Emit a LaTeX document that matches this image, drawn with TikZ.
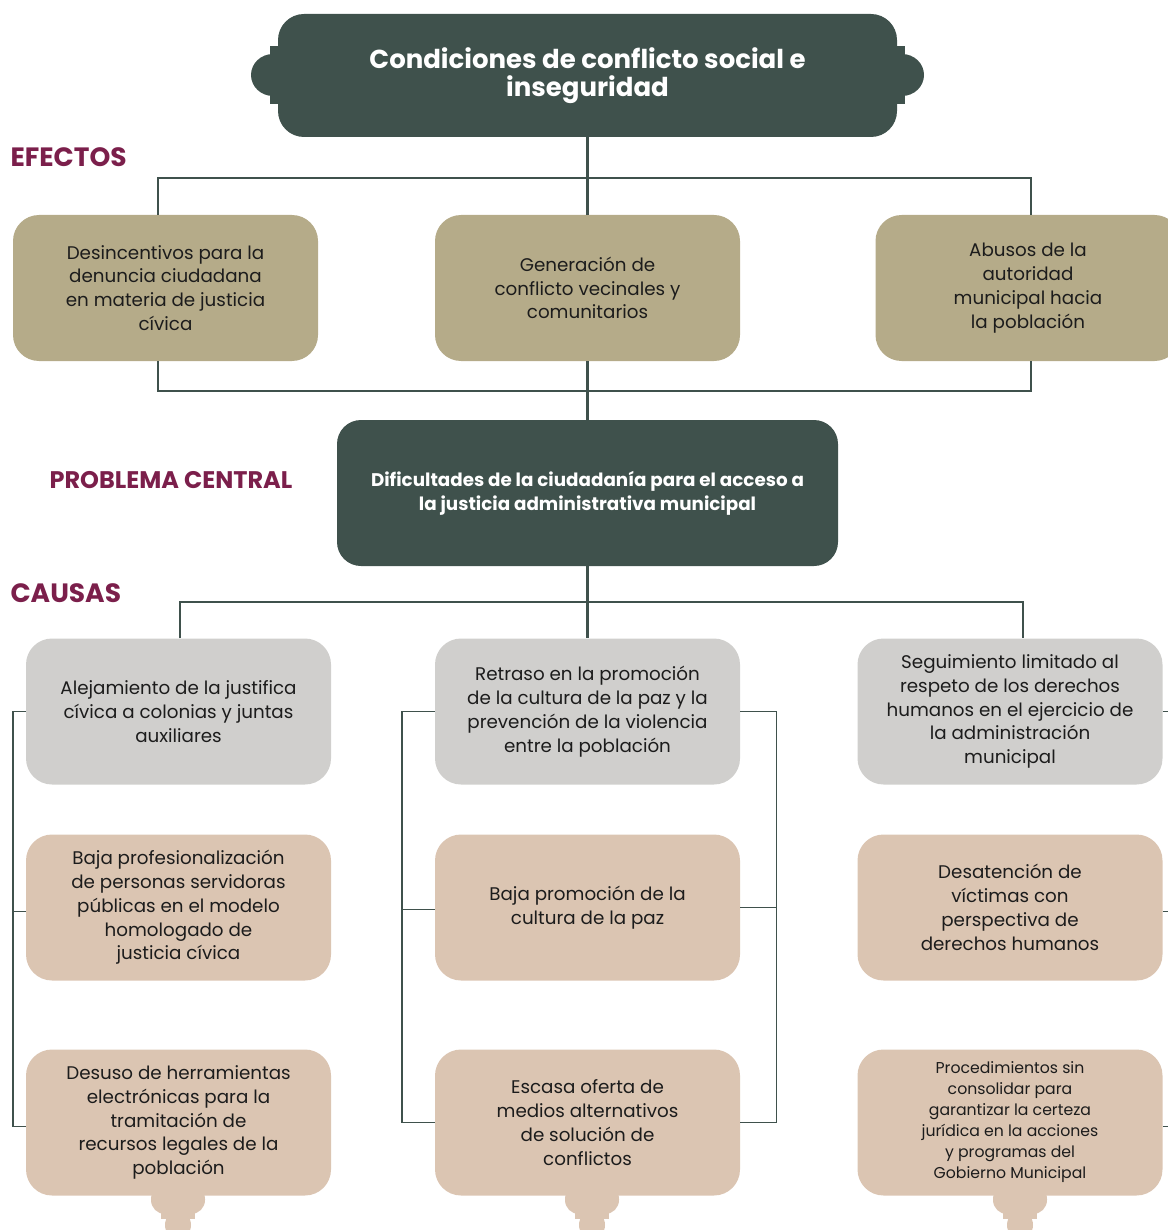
\documentclass[tikz,border=0pt]{standalone}
\usepackage{fontspec}
\setmainfont{Poppins}
\usetikzlibrary{positioning}
\definecolor{verdeOscuro}{HTML}{3F514C}
\definecolor{olivo}{HTML}{B5AB89}
\definecolor{grisClaro}{HTML}{D0CFCD}
\definecolor{arena}{HTML}{DBC5B2}
\definecolor{guinda}{HTML}{7B1F4B}
\definecolor{textoCaja}{HTML}{1C1C1C}

\begin{document}
\begin{tikzpicture}[x=1pt, y=-1pt,
    caja/.style={rounded corners=26pt, minimum width=305pt, minimum height=146pt,
        inner sep=0pt, align=center, text=textoCaja, font=\fontsize{18.3}{23.8}\selectfont},
    efecto/.style={caja, fill=olivo},
    causaGris/.style={caja, fill=grisClaro},
    causaArena/.style={caja, fill=arena},
    seccion/.style={anchor=west, text=guinda, font=\fontsize{26.5}{30}\selectfont\bfseries},
    rama/.style={draw=verdeOscuro, line width=2.6pt},
    riel/.style={draw=verdeOscuro, line width=1.4pt}]

    % --- PARAMETROS ---
    \pgfmathsetmacro{\colA}{178.5}    % centro columna izquierda
    \pgfmathsetmacro{\colB}{587.5}    % centro columna media
    \pgfmathsetmacro{\colC}{1010}     % centro columna derecha
    \pgfmathsetmacro{\filaA}{711.5}
    \pgfmathsetmacro{\filaB}{907.5}
    \pgfmathsetmacro{\filaC}{1122.5}

    \useasboundingbox (0,0) rectangle (1167,1230);

    % --- TITULO (marco con lobulos) ---
    \fill[verdeOscuro] (270,46) rectangle (278,104);
    \fill[verdeOscuro] (273,75) ellipse [x radius=22pt, y radius=21pt];
    \fill[verdeOscuro] (897,46) rectangle (905,104);
    \fill[verdeOscuro] (902,75) ellipse [x radius=22pt, y radius=21pt];
    \node[fill=verdeOscuro, rounded corners=26pt, minimum width=619pt, minimum height=123pt,
        inner sep=0pt, align=center, text=white, font=\fontsize{26}{28}\selectfont\bfseries]
        (titulo) at (587.5,75.5) {Condiciones de conflicto social e\\inseguridad};

    % --- EFECTOS ---
    \node[seccion] (lblEfectos) at (7,157) {EFECTOS};
    \node[efecto] (e1) at (165.5,288) {Desincentivos para la\\denuncia ciudadana\\en materia de justicia\\cívica};
    \node[efecto] (e2) at (587.5,288) {Generación de\\conflicto vecinales y\\comunitarios};
    \node[efecto] (e3) at (1028,288) {Abusos de la\\autoridad\\municipal hacia\\la población};

    \coordinate (efArriba) at (158,178);
    \coordinate (efAbajo) at (1031,391);
    \draw[rama] (titulo.south) -- (e2.north);
    \draw[rama] (efArriba |- e1.north) |- (efAbajo |- efArriba) -- (efAbajo |- e3.north);
    \draw[rama] (efArriba |- e1.south) |- (efAbajo) -- (efAbajo |- e3.south);

    % --- PROBLEMA CENTRAL ---
    \node[seccion, font=\fontsize{24}{28}\selectfont\bfseries] (lblProblema) at (46,480) {PROBLEMA CENTRAL};
    \node[fill=verdeOscuro, rounded corners=24pt, minimum width=501pt, minimum height=146pt,
        inner sep=0pt, align=center, text=white, font=\fontsize{18.3}{24}\selectfont\bfseries]
        (central) at (587.5,493) {Dificultades de la ciudadanía para el acceso a\\la justicia administrativa municipal};
    \draw[rama] (e2.south) -- (central.north);

    % --- CAUSAS ---
    \node[seccion] (lblCausas) at (7,593) {CAUSAS};

    \node[causaGris] (c11) at (\colA,\filaA) {Alejamiento de la justifica\\cívica a colonias y juntas\\auxiliares};
    \node[causaArena] (c12) at (\colA,\filaB) {Baja profesionalización\\de personas servidoras\\públicas en el modelo\\homologado de\\justicia cívica};
    \node[causaArena] (c13) at (\colA,\filaC) {Desuso de herramientas\\electrónicas para la\\tramitación de\\recursos legales de la\\población};

    \node[causaGris] (c21) at (\colB,\filaA) {Retraso en la promoción\\de la cultura de la paz y la\\prevención de la violencia\\entre la población};
    \node[causaArena] (c22) at (\colB,\filaB) {Baja promoción de la\\cultura de la paz};
    \node[causaArena] (c23) at (\colB,\filaC) {Escasa oferta de\\medios alternativos\\de solución de\\conflictos};

    \node[causaGris] (c31) at (\colC,\filaA) {Seguimiento limitado al\\respeto de los derechos\\humanos en el ejercicio de\\la administración\\municipal};
    \node[causaArena] (c32) at (\colC,\filaB) {Desatención de\\víctimas con\\perspectiva de\\derechos humanos};
    \node[causaArena, font=\fontsize{15.7}{21}\selectfont] (c33) at (\colC,\filaC) {Procedimientos sin\\consolidar para\\garantizar la certeza\\jurídica en la acciones\\y programas del\\Gobierno Municipal};

    % Ramas hacia las causas
    \coordinate (caIzq) at (180,602);
    \coordinate (caDer) at (1023,602);
    \draw[rama] (central.south) -- (c21.north);
    \draw[rama] (caIzq |- c11.north) |- (caDer) -- (caDer |- c31.north);

    % Rieles laterales
    \draw[riel] (c11.west) -- ++(-13,0) |- ([yshift=-4pt]c13.west);
    \draw[riel] ([yshift=-4pt]c12.west) -- ++(-13,0);
    \draw[riel] (c21.west) -- ++(-33,0) |- (c23.west);
    \draw[riel] ([yshift=-2pt]c22.west) -- ++(-33,0);
    \draw[riel] (c21.east) -- ++(36,0) |- (c23.east);
    \draw[riel] (c22.east) -- ++(36,0);
    \draw[riel] (c31.east) -- ++(12,0) |- ([yshift=-4pt]c33.east);
    \draw[riel] ([yshift=-4pt]c32.east) -- ++(12,0);

    % Remates inferiores
    \foreach \dx in {178,592,1020} {
        \fill[arena, rounded corners=14pt] (\dx-27,1185) rectangle (\dx+27,1214);
        \fill[arena] (\dx-17,1205) rectangle (\dx+17,1219);
        \fill[arena] (\dx,1225) ellipse [x radius=13pt, y radius=14pt];
    }
\end{tikzpicture}
\end{document}
